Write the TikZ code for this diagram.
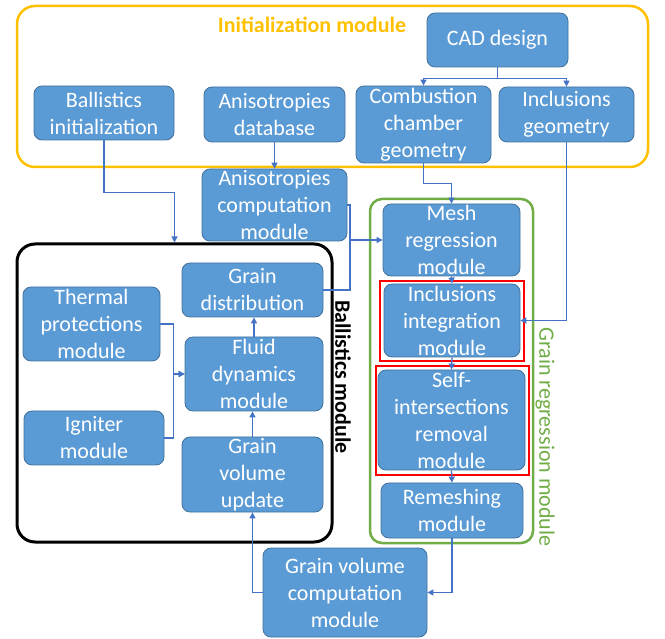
\documentclass[tikz,border=0pt]{standalone}
\usepackage{fontspec}
\setmainfont{Carlito}
\usetikzlibrary{arrows.meta,calc}
\definecolor{boxfill}{HTML}{5B9BD5}
\definecolor{boxline}{HTML}{41719C}
\definecolor{arrowc}{HTML}{4472C4}
\definecolor{orangec}{HTML}{FFC000}
\definecolor{greenc}{HTML}{70AD47}
\definecolor{redc}{HTML}{FF0000}
\begin{document}
\begin{tikzpicture}[x=1pt,y=-1pt,
  blk/.style={draw=boxline, line width=0.8pt, fill=boxfill, rounded corners=8pt, text=white, align=center, inner sep=0pt, font=\fontsize{22}{27}\selectfont},
  arr/.style={draw=arrowc, line width=1.3pt, -{Triangle[length=6pt,width=6pt]}},
  ln/.style={draw=arrowc, line width=1.3pt},
  grp/.style={rounded corners=18pt, line width=2.5pt, inner sep=0pt},
  redbox/.style={draw=redc, line width=2.5pt, inner sep=0pt},
  ttl/.style={font=\fontsize{22}{27}\selectfont, inner sep=0pt}]
\useasboundingbox (0,0) rectangle (665,639);
% group frames
\node[grp, draw=orangec, minimum width=631pt, minimum height=161pt] (initbox) at (332.5,86.5) {};
\node[grp, draw=black, line width=3pt, minimum width=315pt, minimum height=298pt] (ballbox) at (174.5,393) {};
\node[grp, draw=greenc, rounded corners=12pt, minimum width=163pt, minimum height=344pt] (grbox) at (451.5,371) {};
% titles
\node[ttl, font=\fontsize{22}{27}\selectfont\bfseries, text=orangec] (inittitle) at (312,25) {Initialization module};
\node[ttl, font=\fontsize{22}{27}\selectfont\bfseries, rotate=-90] (balltitle) at (343,377) {Ballistics module};
\node[ttl, text=greenc, rotate=-90] (grtitle) at (545,437) {Grain regression module};
% blocks
\node[blk, minimum width=141pt, minimum height=54pt] (cad) at (497.5,40) {CAD design};
\node[blk, minimum width=140pt, minimum height=54pt] (ballinit) at (104,113) {Ballistics\\initialization};
\node[blk, minimum width=141pt, minimum height=55pt] (anidb) at (274.5,114.5) {Anisotropies\\database};
\node[blk, minimum width=135pt, minimum height=77pt] (comb) at (423.5,124.5) {Combustion\\chamber\\geometry};
\node[blk, minimum width=135pt, minimum height=55pt] (inclgeo) at (566.5,114.5) {Inclusions\\geometry};
\node[blk, minimum width=145pt, minimum height=72pt] (anicomp) at (274.5,205) {Anisotropies\\computation\\module};
\node[blk, minimum width=137pt, minimum height=72pt] (mesh) at (451.5,240) {Mesh\\regression\\module};
\node[blk, minimum width=136pt, minimum height=73pt] (inclint) at (452,320.5) {Inclusions\\integration\\module};
\node[blk, minimum width=147pt, minimum height=100pt] (self) at (451.5,420) {Self-\\intersections\\removal\\module};
\node[blk, minimum width=142pt, minimum height=55pt] (remesh) at (452,510.5) {Remeshing\\module};
\node[blk, minimum width=141pt, minimum height=54pt] (graindist) at (252.5,290) {Grain\\distribution};
\node[blk, minimum width=137pt, minimum height=74pt] (thermal) at (91.5,324) {Thermal\\protections\\module};
\node[blk, minimum width=138pt, minimum height=74pt] (fluid) at (254,374) {Fluid\\dynamics\\module};
\node[blk, minimum width=140pt, minimum height=54pt] (igniter) at (94,438) {Igniter\\module};
\node[blk, minimum width=141pt, minimum height=75pt] (gvu) at (252.5,474.5) {Grain\\volume\\update};
\node[blk, minimum width=164pt, minimum height=89pt] (gvc) at (345,592.5) {Grain volume\\computation\\module};
% red highlight frames
\node[redbox, minimum width=144pt, minimum height=80pt] (redA) at (452,321) {};
\node[redbox, minimum width=153pt, minimum height=109pt] (redB) at (452.5,420.5) {};
% connectors
\coordinate (jn) at (350,240);
\draw[arr] (cad.south) -- ++(0,11) -| (comb.north);
\draw[arr] (cad.south) -- ++(0,11) -| (inclgeo.north);
\draw[arr] (anidb.south) -- (anicomp.north);
\draw[arr] (ballinit.south) -- ++(0,52) -| (ballbox.north);
\draw[arr] (comb.south) -- ++(0,20) -| (mesh.north);
\draw[arr] (inclgeo.south) |- (inclint.east);
\draw[arr] (anicomp.east) -| (jn) -- (mesh.west);
\draw[ln] (graindist.east) -| (jn);
\draw[arr] (mesh.south) -- (inclint.north);
\draw[arr] (inclint.south) -- (self.north);
\draw[arr] (self.south) -- (remesh.north);
\draw[arr] (remesh.south) |- (gvc.east);
\draw[arr] (gvc.west) -| (gvu.south);
\draw[arr] (gvu.north) -- (gvu.north |- fluid.south);
\draw[arr] (fluid.north) -- (fluid.north |- graindist.south);
\draw[arr] (thermal.east) -- ++(13,0) |- (fluid.west);
\draw[arr] (igniter.east) -- ++(9,0) |- (fluid.west);
\end{tikzpicture}
\end{document}
